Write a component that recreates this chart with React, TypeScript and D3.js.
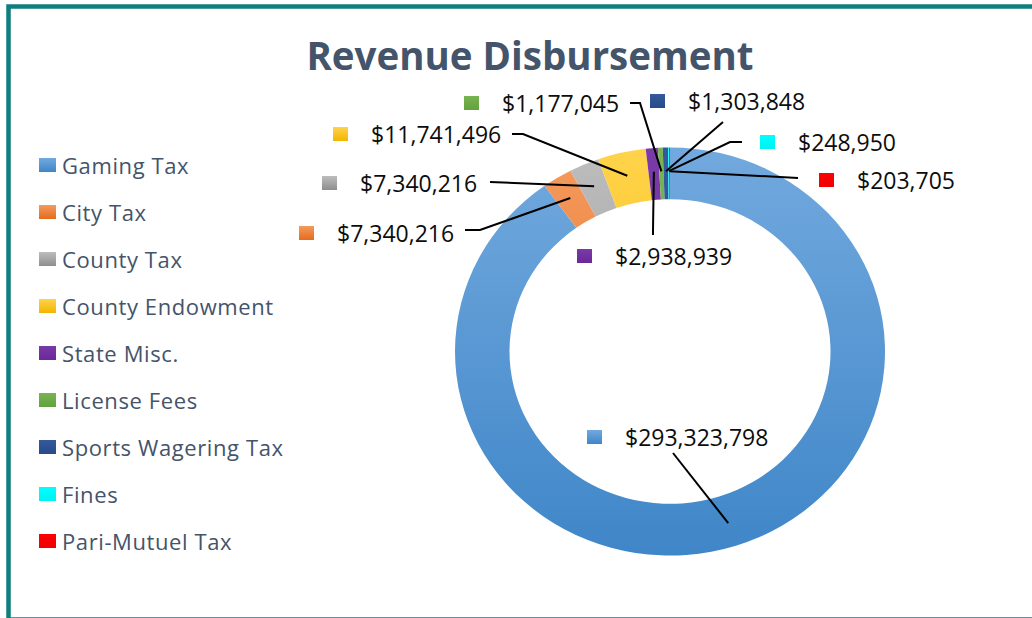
import React from "react";
import * as d3 from "d3";

const categories = [
  "Gaming Tax",
  "City Tax",
  "County Tax",
  "County Endowment",
  "State Misc.",
  "License Fees",
  "Sports Wagering Tax",
  "Fines",
  "Pari-Mutuel Tax",
];
const values = [293323798, 7340216, 7340216, 11741496, 2938939, 1177045, 1303848, 248950, 203705];
const colorsTop = ["#72a9de", "#f49a5e", "#bdbdbd", "#ffd34a", "#7a3aa8", "#78b452", "#34599c", "#00ffff", "#ff0000"];
const colorsBottom = ["#3f86c8", "#e46c1c", "#8e8e8e", "#f2b600", "#6a2898", "#64a23c", "#264a8a", "#00f0f0", "#f00000"];

// label layout (text x, text y, leader start points)
const labelLayout: { tx: number; ty: number; pts: [number, number][] }[] = [
  { tx: 625, ty: 437, pts: [[673, 453]] },
  { tx: 337, ty: 233, pts: [[465, 230], [480, 230]] },
  { tx: 360, ty: 183, pts: [[490, 182]] },
  { tx: 371, ty: 134, pts: [[512, 134], [523, 134]] },
  { tx: 615, ty: 256, pts: [[653, 235], [653, 230]] },
  { tx: 502, ty: 103, pts: [[630, 103], [640, 103]] },
  { tx: 688, ty: 101, pts: [[723, 122]] },
  { tx: 798, ty: 142, pts: [[742, 142], [730, 142]] },
  { tx: 857, ty: 180, pts: [[798, 178]] },
];

const W = 1032;
const H = 618;
const cx = 670;
const cy = 351.5;
const sy = 0.949;
const outerR = 215;
const innerR = 160.5;

const fmt = (v: number) => "$" + d3.format(",")(v);

export default function App() {
  const pie = d3.pie<number>().sort(null).value((d) => d)(values);
  const arc = d3.arc<d3.PieArcDatum<number>>().innerRadius(innerR).outerRadius(outerR);
  const midArc = d3.arc<d3.PieArcDatum<number>>().innerRadius(190).outerRadius(190);
  const line = d3.line();
  const font = "'Open Sans', 'Noto Sans', sans-serif";

  return (
    <svg width={W} height={H} style={{ position: "absolute", left: 0, top: 0, background: "#fff" }}>
      <defs>
        {categories.map((c, i) => (
          <linearGradient key={c} id={`g${i}`} x1="0" y1="0" x2="0" y2="1">
            <stop offset="0" stopColor={colorsTop[i]} />
            <stop offset="1" stopColor={colorsBottom[i]} />
          </linearGradient>
        ))}
        {categories.map((c, i) => (
          <linearGradient key={c} id={`gp${i}`} gradientUnits="userSpaceOnUse" x1="0" y1={-outerR} x2="0" y2={outerR}>
            <stop offset="0" stopColor={colorsTop[i]} />
            <stop offset="1" stopColor={colorsBottom[i]} />
          </linearGradient>
        ))}
      </defs>
      <rect x={0} y={0} width={W} height={H} fill="#fff" />
      <rect x={8.5} y={6.5} width={1040} height={613} fill="none" stroke="#0f7e7d" strokeWidth={4.5} />
      <text
        x={530}
        y={55}
        textAnchor="middle"
        dominantBaseline="central"
        fontFamily={font}
        fontWeight={700}
        fontSize={38.5}
        fill="#44546a"
      >
        Revenue Disbursement
      </text>

      {/* legend */}
      {categories.map((c, i) => {
        const y = 165 + i * 47;
        return (
          <g key={c}>
            <rect x={39} y={y - 7} width={17} height={14} fill={`url(#g${i})`} />
            <text
              x={62}
              y={y}
              dominantBaseline="central"
              fontFamily={font}
              fontSize={22}
              letterSpacing={0.6}
              fill="#44546a"
            >
              {c}
            </text>
          </g>
        );
      })}

      {/* donut */}
      <g transform={`translate(${cx},${cy}) scale(1,${sy})`}>
        {pie.map((p, i) => (
          <path key={i} d={arc(p) || ""} fill={`url(#gp${i})`} />
        ))}
      </g>

      {/* leader lines */}
      {pie.map((p, i) => {
        const [ax, ay] = midArc.centroid(p);
        const end: [number, number] = [cx + ax, cy + ay * sy];
        const pts = [...labelLayout[i].pts, end];
        return <path key={i} d={line(pts) || ""} fill="none" stroke="#000" strokeWidth={2} />;
      })}

      {/* data labels */}
      {pie.map((p, i) => {
        const L = labelLayout[i];
        return (
          <g key={i}>
            <rect x={L.tx - 38} y={L.ty - 7} width={15} height={14} fill={`url(#g${i})`} />
            <text x={L.tx} y={L.ty} dominantBaseline="central" fontFamily={font} fontSize={23} fill="#0d0d0d">
              {fmt(values[i])}
            </text>
          </g>
        );
      })}
    </svg>
  );
}
